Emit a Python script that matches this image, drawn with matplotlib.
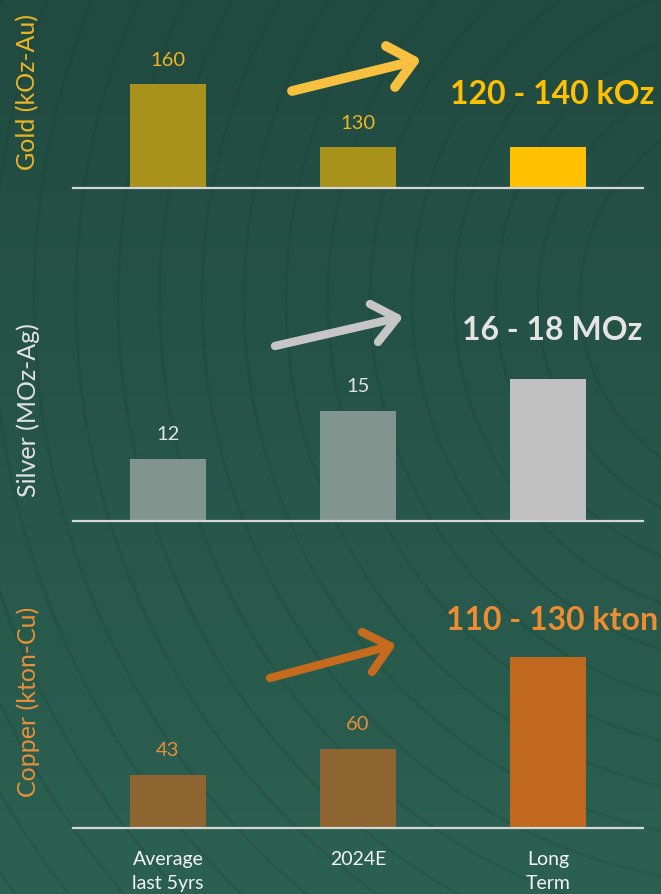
"""
Production outlook chart: gold, silver and copper
"""

import numpy as np
import matplotlib
matplotlib.use("Agg")
import matplotlib.pyplot as plt
from matplotlib.lines import Line2D

plt.rcParams["font.family"] = ["Lato", "DejaVu Sans"]

W, H = 661, 895

categories = ["Average\nlast 5yrs", "2024E", "Long\nTerm"]

gold_values = [160, 130, 130]
gold_labels = ["160", "130", ""]
gold_range = "120 - 140 kOz"

silver_values = [12, 15, 17]
silver_labels = ["12", "15", ""]
silver_range = "16 - 18 MOz"

copper_values = [43, 60, 120]
copper_labels = ["43", "60", ""]
copper_range = "110 - 130 kton"

# panel layout in pixels: top edge, baseline, value range
PANELS = {
    "gold": dict(top=20, base=189, ylim=(110.5, 191.0)),
    "silver": dict(top=300, base=522, ylim=(8.1, 22.0)),
    "copper": dict(top=600, base=829, ylim=(8.3, 158.0)),
}
X0, X1 = 73, 643

STYLES = {
    "gold": dict(title="Gold (kOz-Au)", title_y=92, hist="#a8921c", main="#ffc000",
                 text="#ecb624", big="#ffc000", arrow="#f7c03e",
                 arrow_px=[(292, 92), (414, 62), (386, 47), (395, 88)], lw=7.0,
                 big_y=95),
    "silver": dict(title="Silver (MOz-Ag)", title_y=410, hist="#80958d", main="#c0c0c0",
                   text="#e2e2e2", big="#e4e4e4", arrow="#c6c6c6",
                   arrow_px=[(275, 347), (397, 319), (370, 305), (378, 343)], lw=6.0,
                   big_y=331),
    "copper": dict(title="Copper (kton-Cu)", title_y=702, hist="#8e6530", main="#c0681e",
                   text="#e98f38", big="#ee8d30", arrow="#c66a1e",
                   arrow_px=[(270, 679), (390, 647), (362, 633), (372, 673)], lw=6.0,
                   big_y=620),
}


def px(x, y):
    return x / W, 1 - y / H


def draw_background(fig):
    bg = fig.add_axes([0, 0, 1, 1], zorder=-10)
    grad = np.linspace(0, 1, 256).reshape(-1, 1)
    top = np.array([0x21, 0x4a, 0x40]) / 255
    bot = np.array([0x2c, 0x61, 0x52]) / 255
    img = top + grad[..., None] * (bot - top)
    bg.imshow(img, aspect="auto", extent=[0, W, H, 0])
    # faint concentric arcs in the backdrop
    t = np.linspace(0, 2 * np.pi, 800)
    for r in np.arange(180, 1100, 42):
        bg.plot(760 + r * np.cos(t), 300 + r * 1.05 * np.sin(t),
                color="#173a30", lw=2.2, alpha=0.18)
    bg.set_xlim(0, W)
    bg.set_ylim(H, 0)
    bg.axis("off")


def draw_panel(fig, key, values, labels, range_text, show_xticks=False):
    p = PANELS[key]
    s = STYLES[key]
    left, bottom = px(X0, p["base"])
    width = (X1 - X0) / W
    height = (p["base"] - p["top"]) / H
    ax = fig.add_axes([left, bottom, width, height])
    ax.patch.set_alpha(0)

    x = np.arange(len(values))
    colors = [s["hist"], s["hist"], s["main"]]
    bars = ax.bar(x, values, width=0.405, color=colors, zorder=2)
    ax.set_xlim(-0.5, 2.5)
    ax.set_ylim(*p["ylim"])

    for bar, lab in zip(bars, labels):
        if lab:
            ax.annotate(lab, (bar.get_x() + bar.get_width() / 2, bar.get_height()),
                        xytext=(0, 18), textcoords="offset points",
                        ha="center", va="center", fontsize=14.5, color=s["text"])

    for side in ["top", "right", "left"]:
        ax.spines[side].set_visible(False)
    ax.spines["bottom"].set_color("#d6d6d6")
    ax.spines["bottom"].set_linewidth(1.6)
    ax.set_yticks([])
    ax.set_xticks(x)
    if show_xticks:
        ax.set_xticklabels(categories, fontsize=14, color="#f4f4f4", linespacing=1.45)
        ax.tick_params(axis="x", length=0, pad=16)
    else:
        ax.set_xticklabels([])
        ax.tick_params(axis="x", length=0)

    tx, ty = px(28, s["title_y"])
    fig.text(tx, ty, s["title"], rotation=90, ha="center", va="center",
             fontsize=18, color=s["text"])

    bx, by = px(552, s["big_y"])
    fig.text(bx, by, range_text, ha="center", va="center", fontsize=23,
             fontweight="bold", color=s["big"])

    tail, tip, up, low = [px(*pt) for pt in s["arrow_px"]]
    for pts in ([tail, tip], [up, tip, low]):
        xs, ys = zip(*pts)
        fig.add_artist(Line2D(xs, ys, color=s["arrow"], lw=s["lw"],
                              solid_capstyle="round", solid_joinstyle="round"))
    return ax


def main():
    fig = plt.figure(figsize=(W / 100, H / 100), dpi=100)
    draw_background(fig)
    draw_panel(fig, "gold", gold_values, gold_labels, gold_range)
    draw_panel(fig, "silver", silver_values, silver_labels, silver_range)
    draw_panel(fig, "copper", copper_values, copper_labels, copper_range, show_xticks=True)
    fig.savefig("out.png", dpi=100)
    plt.close(fig)


if __name__ == "__main__":
    main()
